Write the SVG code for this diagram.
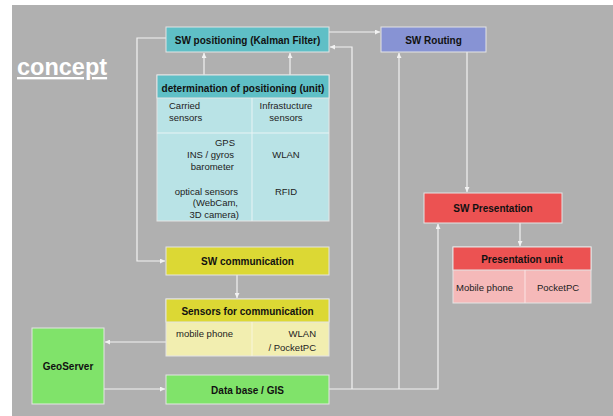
<svg xmlns="http://www.w3.org/2000/svg" width="613" height="416" viewBox="0 0 613 416">
<style>
text{font-family:"Liberation Sans",Arial,sans-serif;fill:#111}
.b{font-weight:bold;font-size:10px}
.r{font-size:9.5px;fill:#222}
.m{text-anchor:middle}
.e{text-anchor:end}
.box{stroke:#e4e4e4;stroke-width:1}
.ln{fill:none;stroke:#f2f2f2;stroke-width:1.2}
</style>
<defs>
<marker id="ah" viewBox="0 0 6 6" refX="6" refY="3" markerWidth="5" markerHeight="5" orient="auto" markerUnits="userSpaceOnUse">
<path d="M0,0 L6,3 L0,6 z" fill="#f2f2f2"/>
</marker>
</defs>
<rect x="0" y="0" width="613" height="416" fill="#ffffff"/>
<rect x="12" y="5" width="601" height="411" fill="#b0b0b0"/>
<g id="title">
<text x="17" y="75" style="font-size:23.5px;font-weight:bold;fill:#fff;text-decoration:underline">concept</text>
</g>
<g id="connectors">
<path class="ln" d="M204,75 V53" marker-end="url(#ah)"/>
<path class="ln" d="M290,75 V53" marker-end="url(#ah)"/>
<path class="ln" d="M166,38 H137 V261 H165" marker-end="url(#ah)"/>
<path class="ln" d="M329,32 H380" marker-end="url(#ah)"/>
<path class="ln" d="M352,389 V47 H330" marker-end="url(#ah)"/>
<path class="ln" d="M399,389 V53" marker-end="url(#ah)"/>
<path class="ln" d="M467,52 V192" marker-end="url(#ah)"/>
<path class="ln" d="M520,223 V246" marker-end="url(#ah)"/>
<path class="ln" d="M237,275 V298" marker-end="url(#ah)"/>
<path class="ln" d="M166,342 H105" marker-end="url(#ah)"/>
<path class="ln" d="M104,389 H165" marker-end="url(#ah)"/>
<path class="ln" d="M329,389 H438 V224" marker-end="url(#ah)"/>
</g>
<g id="sw-positioning">
<rect class="box" x="166" y="27" width="163" height="25" fill="#5fbfc6"/>
<text class="b m" x="247.5" y="43.5">SW positioning (Kalman Filter)</text>
</g>
<g id="determination">
<rect class="box" x="157" y="75" width="172" height="146" fill="#b9e3e6"/>
<rect class="box" x="157" y="75" width="172" height="23" fill="#5fbfc6"/>
<line x1="252" y1="98" x2="252" y2="221" stroke="#e8f4f5"/>
<line x1="157" y1="133" x2="329" y2="133" stroke="#e8f4f5"/>
<text class="b m" x="243" y="91.5">determination of positioning (unit)</text>
<text class="r" x="169" y="109">Carried</text>
<text class="r" x="169" y="121">sensors</text>
<text class="r m" x="286" y="109">Infrastucture</text>
<text class="r m" x="286" y="121">sensors</text>
<text class="r e" x="235" y="146">GPS</text>
<text class="r e" x="234" y="158">INS / gyros</text>
<text class="r e" x="234" y="170">barometer</text>
<text class="r e" x="238" y="195">optical sensors</text>
<text class="r e" x="238" y="206">(WebCam,</text>
<text class="r e" x="239" y="218">3D camera)</text>
<text class="r m" x="286" y="158">WLAN</text>
<text class="r m" x="286" y="195">RFID</text>
</g>
<g id="sw-routing">
<rect class="box" x="381" y="27" width="105" height="25" fill="#8793d4"/>
<text class="b m" x="433.5" y="43.5">SW Routing</text>
</g>
<g id="sw-presentation">
<rect class="box" x="424" y="193" width="138" height="30" fill="#ec5252"/>
<text class="b m" x="493" y="211.5">SW Presentation</text>
</g>
<g id="presentation-unit">
<rect class="box" x="453" y="247" width="138" height="56" fill="#f5b9b9"/>
<rect class="box" x="453" y="247" width="138" height="23" fill="#ec5252"/>
<line x1="525" y1="270" x2="525" y2="303" stroke="#fbe4e4"/>
<text class="b m" x="522" y="262.5">Presentation unit</text>
<text class="r" x="456" y="291">Mobile phone</text>
<text class="r m" x="558" y="291">PocketPC</text>
</g>
<g id="sw-communication">
<rect class="box" x="166" y="247" width="163" height="28" fill="#dcd834"/>
<text class="b m" x="247.5" y="264.5">SW communication</text>
</g>
<g id="sensors-communication">
<rect class="box" x="166" y="299" width="163" height="57" fill="#f2eeb0"/>
<rect class="box" x="166" y="299" width="163" height="23" fill="#dcd834"/>
<line x1="252" y1="322" x2="252" y2="356" stroke="#f8f6dc"/>
<text class="b m" x="247.5" y="314.5">Sensors for communication</text>
<text class="r" x="176" y="337">mobile phone</text>
<text class="r e" x="316" y="337">WLAN</text>
<text class="r e" x="316" y="351">/ PocketPC</text>
</g>
<g id="geoserver">
<rect class="box" x="32" y="328" width="72" height="76" fill="#80e36a"/>
<text class="b m" x="68" y="369.5">GeoServer</text>
</g>
<g id="database">
<rect class="box" x="166" y="375" width="163" height="29" fill="#80e36a"/>
<text class="b m" x="247.5" y="393.5">Data base / GIS</text>
</g>
</svg>
